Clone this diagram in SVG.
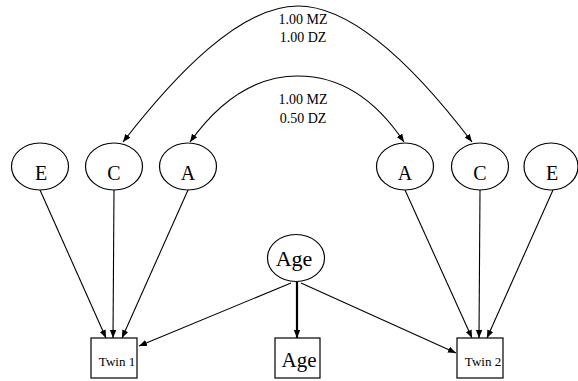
<svg xmlns="http://www.w3.org/2000/svg" width="578" height="381" viewBox="0 0 578 381">
<style>
.node ellipse,.node rect{fill:#fff;stroke:#000;stroke-width:1.2}
.node text{font-family:"Liberation Serif","Times New Roman",serif;fill:#000;text-anchor:middle}
.lat{font-size:20px}
.lbl{font-family:"Liberation Serif","Times New Roman",serif;font-size:14px;text-anchor:middle;fill:#000}
.edge{fill:none;stroke:#000;stroke-width:1.1}
.thick{stroke-width:2.2}
</style>
<defs>
<marker id="ah" viewBox="0 0 10 8" refX="10" refY="4" markerWidth="8" markerHeight="6.4" markerUnits="userSpaceOnUse" orient="auto-start-reverse">
<path d="M0,0 L10,4 L0,8 Z" fill="#000"/>
</marker>
</defs>
<rect width="578" height="381" fill="#fff"/>
<g id="connectors">
<path class="edge" d="M123,142 C175,75 240,6 298,6 C356,6 421,75 472,142" marker-start="url(#ah)" marker-end="url(#ah)"/>
<path class="edge" d="M190,142 C220,100 255,76 298,76 C341,76 376,100 404,142" marker-start="url(#ah)" marker-end="url(#ah)"/>
<line class="edge" x1="40" y1="190" x2="106" y2="338" marker-end="url(#ah)"/>
<line class="edge" x1="114" y1="190" x2="113" y2="338" marker-end="url(#ah)"/>
<line class="edge" x1="188" y1="190" x2="122" y2="338" marker-end="url(#ah)"/>
<line class="edge" x1="405" y1="190" x2="472" y2="338" marker-end="url(#ah)"/>
<line class="edge" x1="480" y1="190" x2="479" y2="338" marker-end="url(#ah)"/>
<line class="edge" x1="553" y1="190" x2="487" y2="338" marker-end="url(#ah)"/>
<line class="edge" x1="291" y1="283" x2="139" y2="346" marker-end="url(#ah)"/>
<line class="edge thick" x1="297" y1="282" x2="297" y2="338" marker-end="url(#ah)"/>
<line class="edge" x1="301" y1="283" x2="456" y2="353" marker-end="url(#ah)"/>
<text class="lbl" x="303" y="24">1.00 MZ</text>
<text class="lbl" x="303" y="42">1.00 DZ</text>
<text class="lbl" x="303" y="104">1.00 MZ</text>
<text class="lbl" x="303" y="123">0.50 DZ</text>
</g>
<g id="E1" class="node"><ellipse cx="40" cy="166.5" rx="28.5" ry="23.5"/><text class="lat" x="41" y="180">E</text></g>
<g id="C1" class="node"><ellipse cx="114" cy="166.5" rx="28.5" ry="23.5"/><text class="lat" x="114" y="180">C</text></g>
<g id="A1" class="node"><ellipse cx="188" cy="166.5" rx="28.5" ry="23.5"/><text class="lat" x="188" y="180">A</text></g>
<g id="A2" class="node"><ellipse cx="405" cy="166.5" rx="28.5" ry="23.5"/><text class="lat" x="405" y="180">A</text></g>
<g id="C2" class="node"><ellipse cx="480" cy="166.5" rx="28.5" ry="23.5"/><text class="lat" x="480" y="180">C</text></g>
<g id="E2" class="node"><ellipse cx="551" cy="166.5" rx="27" ry="23.5"/><text class="lat" x="552" y="180">E</text></g>
<g id="AgeLatent" class="node"><ellipse cx="296" cy="258" rx="28.5" ry="23.5"/><text x="294" y="266" style="font-size:22px">Age</text></g>
<g id="Twin1" class="node"><rect x="91" y="338" width="46" height="40"/><text x="117" y="366" style="font-size:13px">Twin 1</text></g>
<g id="AgeObs" class="node"><rect x="275" y="338" width="45" height="40"/><text x="299" y="367" style="font-size:21px">Age</text></g>
<g id="Twin2" class="node"><rect x="457" y="338" width="46" height="40"/><text x="483" y="366" style="font-size:13px">Twin 2</text></g>
</svg>
